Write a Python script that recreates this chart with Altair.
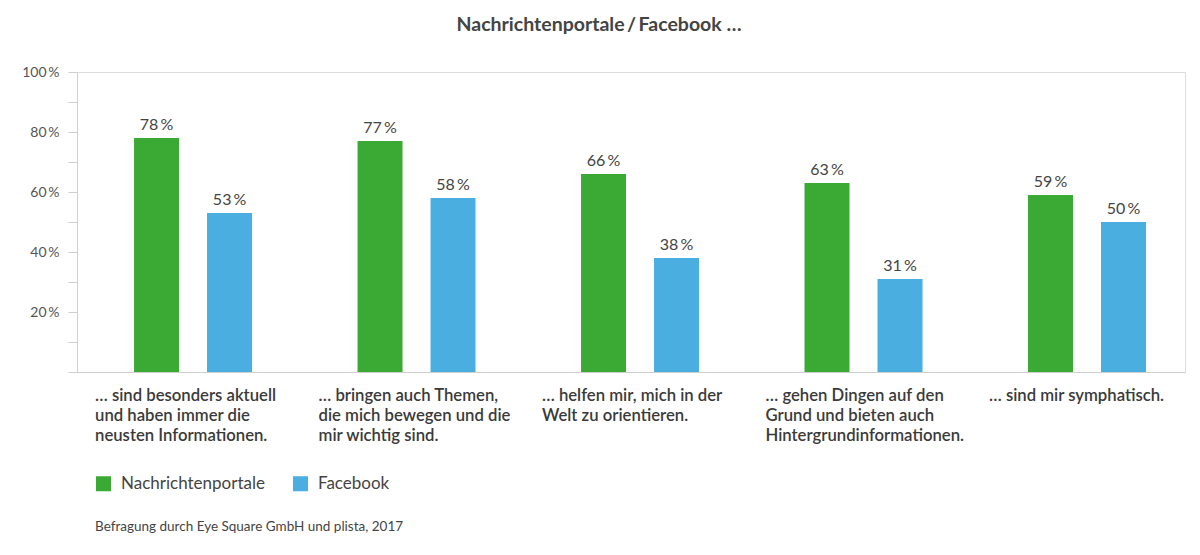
import altair as alt
import pandas as pd

categories = [
    "… sind besonders aktuell|und haben immer die|neusten Informationen.",
    "… bringen auch Themen,|die mich bewegen und die|mir wichtig sind.",
    "… helfen mir, mich in der|Welt zu orientieren.",
    "… gehen Dingen auf den|Grund und bieten auch|Hintergrundinformationen.",
    "… sind mir symphatisch.",
]
series = ["Nachrichtenportale", "Facebook"]
nachrichten = [78, 77, 66, 63, 59]
facebook = [53, 58, 38, 31, 50]
colors = ["#3aaa35", "#4aaee0"]
y_ticks = [0, 10, 20, 30, 40, 50, 60, 70, 80, 90, 100]
title_text = "Nachrichtenportale\u2009/\u2009Facebook …"
footnote = ["Befragung durch Eye Square GmbH und plista, 2017"]

rows = []
for c, n, f in zip(categories, nachrichten, facebook):
    rows.append({"cat": c, "series": series[0], "value": n})
    rows.append({"cat": c, "series": series[1], "value": f})
df = pd.DataFrame(rows)

FONT = "Lato"

x = alt.X(
    "cat:N",
    sort=categories,
    scale=alt.Scale(paddingInner=0.472, paddingOuter=0.2148, align=0.594),
    axis=alt.Axis(
        title=None,
        labelExpr="split(datum.label, '|')",
        labelAlign="left",
        labelBaseline="top",
        labelOffset=-98,
        labelPadding=15,
        labelAngle=0,
        labelFont=FONT,
        labelFontSize=16.7,
        labelFontWeight=600,
        labelColor="#3a3a3a",
        labelLineHeight=20,
        labelLimit=400,
        labelOverlap=False,
        labelBound=False,
        ticks=False,
        domainColor="#cfcfcf",
        domainWidth=1,
    ),
)
xoff = alt.XOffset(
    "series:N", sort=series, scale=alt.Scale(paddingInner=0.3836, paddingOuter=0)
)
y = alt.Y(
    "value:Q",
    scale=alt.Scale(domain=[0, 100], nice=False),
    axis=alt.Axis(
        title=None,
        values=y_ticks,
        labelExpr="datum.value % 20 == 0 && datum.value > 0 ? datum.value + '\u2009%' : ''",
        tickSize=9,
        tickColor="#cfcfcf",
        domainColor="#cfcfcf",
        labelFont=FONT,
        labelFontSize=14,
        labelColor="#555555",
        labelPadding=9,
        grid=False,
    ),
)
color = alt.Color(
    "series:N",
    sort=series,
    scale=alt.Scale(domain=series, range=colors),
    legend=alt.Legend(
        orient="none",
        legendX=18,
        legendY=403,
        direction="horizontal",
        title=None,
        symbolType="square",
        symbolSize=225,
        symbolStrokeWidth=0,
        symbolOpacity=1,
        labelFont=FONT,
        labelFontSize=17,
        labelColor="#444444",
        labelOffset=9,
        columnPadding=27,
    ),
)

base = alt.Chart(df)
bars = base.mark_bar().encode(x=x, xOffset=xoff, y=y, color=color)
labels = (
    base.transform_calculate(lbl="datum.value + '\u2009%'")
    .mark_text(baseline="bottom", dy=-5, font=FONT, fontSize=16, color="#444444")
    .encode(x=x, xOffset=xoff, y=y, text="lbl:N")
)
note = (
    alt.Chart(pd.DataFrame({"t": footnote}))
    .mark_text(align="left", baseline="middle", font=FONT, fontSize=13.5, color="#444444")
    .encode(text="t:N", x=alt.value(18), y=alt.value(455))
)

chart = (
    alt.layer(bars, labels, note)
    .properties(
        width=1108,
        height=300,
        title=alt.Title(
            title_text,
            font=FONT,
            fontSize=19.5,
            fontWeight="bold",
            color="#444444",
            anchor="middle",
            dx=-32,
            offset=30,
        ),
        autosize=alt.AutoSizeParams(type="none"),
        padding={"left": 69, "top": 64, "right": 7, "bottom": 170},
    )
    .configure_view(stroke=None)
    .configure(background="white")
)

chart.save("out.html", embed_options={"renderer": "svg", "actions": False})
